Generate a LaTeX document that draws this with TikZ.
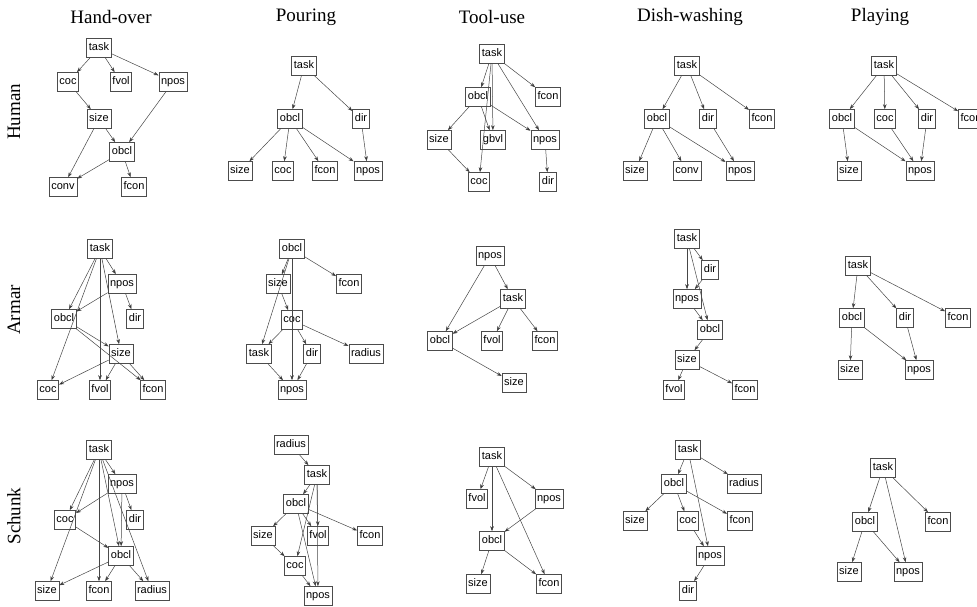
\documentclass[tikz,border=0pt]{standalone}
\usepackage{fontspec}
\setmainfont{Liberation Serif}
\setsansfont{Liberation Sans}
\usetikzlibrary{arrows.meta}

\tikzset{
  box/.style={draw=gray!60!black, line width=0.6pt, inner sep=2.2pt,
    minimum height=19pt, text height=8pt, text depth=2.4pt,
    font=\sffamily\fontsize{11}{11}\selectfont},
  link/.style={draw=gray!55!black, line width=0.5pt, ->},
  coltitle/.style={font=\fontsize{19}{19}\selectfont},
  rowtitle/.style={font=\fontsize{19}{19}\selectfont, rotate=90}
}

\begin{document}
\begin{tikzpicture}[x=1pt, y=-1pt, >={Stealth[length=5pt,width=3.6pt]}]
  \useasboundingbox (0,0) rectangle (977,607);

  % column and row titles
  \node[coltitle] (t-ho) at (111,17) {Hand-over};
  \node[coltitle] (t-po) at (306,17) {Pouring};
  \node[coltitle] (t-tu) at (492,17) {Tool-use};
  \node[coltitle] (t-dw) at (690,17) {Dish-washing};
  \node[coltitle] (t-pl) at (880,17) {Playing};
  \node[rowtitle] (r-H) at (14,112) {Human};
  \node[rowtitle] (r-A) at (14,310) {Armar};
  \node[rowtitle] (r-S) at (14,516) {Schunk};

  % Human, hand-over
  \node[box] (hoH-task) at (99,48) {task};
  \node[box] (hoH-coc)  at (68,82) {coc};
  \node[box] (hoH-fvol) at (121,82) {fvol};
  \node[box] (hoH-npos) at (173,82) {npos};
  \node[box] (hoH-size) at (99,119) {size};
  \node[box] (hoH-obcl) at (122,152) {obcl};
  \node[box] (hoH-conv) at (63,187) {conv};
  \node[box] (hoH-fcon) at (134,187) {fcon};
  \draw[link] (hoH-task) edge (hoH-coc) edge (hoH-fvol) edge (hoH-npos);
  \draw[link] (hoH-coc) edge (hoH-size);
  \draw[link] (hoH-size) edge (hoH-obcl) edge (hoH-conv);
  \draw[link] (hoH-npos) edge (hoH-obcl);
  \draw[link] (hoH-obcl) edge (hoH-conv) edge (hoH-fcon);

  % Human, pouring
  \node[box] (poH-task) at (304,66) {task};
  \node[box] (poH-obcl) at (290,119) {obcl};
  \node[box] (poH-dir)  at (361,119) {dir};
  \node[box] (poH-size) at (240,171) {size};
  \node[box] (poH-coc)  at (283,171) {coc};
  \node[box] (poH-fcon) at (325,171) {fcon};
  \node[box] (poH-npos) at (368,171) {npos};
  \draw[link] (poH-task) edge (poH-obcl) edge (poH-dir);
  \draw[link] (poH-obcl) edge (poH-size) edge (poH-coc) edge (poH-fcon) edge (poH-npos);
  \draw[link] (poH-dir) edge (poH-npos);

  % Human, tool-use
  \node[box] (tuH-task) at (492,54) {task};
  \node[box] (tuH-obcl) at (478,97) {obcl};
  \node[box] (tuH-fcon) at (548,97) {fcon};
  \node[box] (tuH-size) at (439,140) {size};
  \node[box] (tuH-gbvl) at (493,140) {gbvl};
  \node[box] (tuH-npos) at (545,140) {npos};
  \node[box] (tuH-coc)  at (479,182) {coc};
  \node[box] (tuH-dir)  at (548,182) {dir};
  \draw[link] (tuH-task) edge (tuH-obcl) edge (tuH-coc) edge (tuH-gbvl) edge (tuH-fcon) edge (tuH-npos);
  \draw[link] (tuH-obcl) edge (tuH-size) edge (tuH-gbvl) edge (tuH-npos);
  \draw[link] (tuH-size) edge (tuH-coc);
  \draw[link] (tuH-npos) edge (tuH-dir);

  % Human, dish-washing
  \node[box] (dwH-task) at (687,66) {task};
  \node[box] (dwH-obcl) at (657,119) {obcl};
  \node[box] (dwH-dir)  at (708,119) {dir};
  \node[box] (dwH-fcon) at (762,119) {fcon};
  \node[box] (dwH-size) at (635,171) {size};
  \node[box] (dwH-conv) at (687,171) {conv};
  \node[box] (dwH-npos) at (740,171) {npos};
  \draw[link] (dwH-task) edge (dwH-obcl) edge (dwH-dir) edge (dwH-fcon);
  \draw[link] (dwH-obcl) edge (dwH-size) edge (dwH-conv) edge (dwH-npos);
  \draw[link] (dwH-dir) edge (dwH-npos);

  % Human, playing (fcon runs over the right edge)
  \node[box] (plH-task) at (884,66) {task};
  \node[box] (plH-obcl) at (842,119) {obcl};
  \node[box] (plH-coc)  at (885,119) {coc};
  \node[box] (plH-dir)  at (927,119) {dir};
  \node[box] (plH-fcon) at (971,119) {fcon};
  \node[box] (plH-size) at (849,171) {size};
  \node[box] (plH-npos) at (920,171) {npos};
  \draw[link] (plH-task) edge (plH-obcl) edge (plH-coc) edge (plH-dir) edge (plH-fcon);
  \draw[link] (plH-obcl) edge (plH-size) edge (plH-npos);
  \draw[link] (plH-coc) edge (plH-npos);
  \draw[link] (plH-dir) edge (plH-npos);

  % Armar, hand-over
  \node[box] (hoA-task) at (100,249) {task};
  \node[box] (hoA-npos) at (122,284) {npos};
  \node[box] (hoA-obcl) at (64,319) {obcl};
  \node[box] (hoA-dir)  at (135,319) {dir};
  \node[box] (hoA-size) at (121,354) {size};
  \node[box] (hoA-coc)  at (48,390) {coc};
  \node[box] (hoA-fvol) at (100,390) {fvol};
  \node[box] (hoA-fcon) at (153,390) {fcon};
  \draw[link] (hoA-task) edge (hoA-npos) edge (hoA-obcl) edge (hoA-coc) edge (hoA-fvol) edge (hoA-size);
  \draw[link] (hoA-npos) edge (hoA-obcl) edge (hoA-dir);
  \draw[link] (hoA-obcl) edge (hoA-size) edge (hoA-fcon);
  \draw[link] (hoA-size) edge (hoA-coc) edge (hoA-fvol) edge (hoA-fcon);

  % Armar, pouring
  \node[box] (poA-obcl)   at (292,249) {obcl};
  \node[box] (poA-size)   at (278,284) {size};
  \node[box] (poA-fcon)   at (349,284) {fcon};
  \node[box] (poA-coc)    at (292,320) {coc};
  \node[box] (poA-task)   at (259,354) {task};
  \node[box] (poA-dir)    at (312,354) {dir};
  \node[box] (poA-radius) at (366,354) {radius};
  \node[box] (poA-npos)   at (292,390) {npos};
  \draw[link] (poA-obcl) edge (poA-size) edge (poA-fcon) edge (poA-task) edge (poA-npos);
  \draw[link] (poA-size) edge (poA-coc);
  \draw[link] (poA-coc) edge (poA-task) edge (poA-dir) edge (poA-radius);
  \draw[link] (poA-task) edge (poA-npos);
  \draw[link] (poA-dir) edge (poA-npos);

  % Armar, tool-use
  \node[box] (tuA-npos) at (490,256) {npos};
  \node[box] (tuA-task) at (513,299) {task};
  \node[box] (tuA-obcl) at (440,341) {obcl};
  \node[box] (tuA-fvol) at (492,341) {fvol};
  \node[box] (tuA-fcon) at (545,341) {fcon};
  \node[box] (tuA-size) at (514,383) {size};
  \draw[link] (tuA-npos) edge (tuA-task) edge (tuA-obcl);
  \draw[link] (tuA-task) edge (tuA-obcl) edge (tuA-fvol) edge (tuA-fcon);
  \draw[link] (tuA-obcl) edge (tuA-size);

  % Armar, dish-washing
  \node[box] (dwA-task) at (687,239) {task};
  \node[box] (dwA-dir)  at (710,270) {dir};
  \node[box] (dwA-npos) at (687,299) {npos};
  \node[box] (dwA-obcl) at (710,330) {obcl};
  \node[box] (dwA-size) at (687,360) {size};
  \node[box] (dwA-fvol) at (674,390) {fvol};
  \node[box] (dwA-fcon) at (745,390) {fcon};
  \draw[link] (dwA-task) edge (dwA-dir) edge (dwA-npos) edge (dwA-obcl);
  \draw[link] (dwA-dir) edge (dwA-npos);
  \draw[link] (dwA-npos) edge (dwA-obcl);
  \draw[link] (dwA-obcl) edge (dwA-size);
  \draw[link] (dwA-size) edge (dwA-fvol) edge (dwA-fcon);

  % Armar, playing
  \node[box] (plA-task) at (858,266) {task};
  \node[box] (plA-obcl) at (852,318) {obcl};
  \node[box] (plA-dir)  at (905,318) {dir};
  \node[box] (plA-fcon) at (958,318) {fcon};
  \node[box] (plA-size) at (850,370) {size};
  \node[box] (plA-npos) at (919,370) {npos};
  \draw[link] (plA-task) edge (plA-obcl) edge (plA-dir) edge (plA-fcon);
  \draw[link] (plA-obcl) edge (plA-size) edge (plA-npos);
  \draw[link] (plA-dir) edge (plA-npos);

  % Schunk, hand-over
  \node[box] (hoS-task)   at (99,450) {task};
  \node[box] (hoS-npos)   at (122,484) {npos};
  \node[box] (hoS-coc)    at (65,520) {coc};
  \node[box] (hoS-dir)    at (135,520) {dir};
  \node[box] (hoS-obcl)   at (121,556) {obcl};
  \node[box] (hoS-size)   at (47,591) {size};
  \node[box] (hoS-fcon)   at (99,591) {fcon};
  \node[box] (hoS-radius) at (152,591) {radius};
  \draw[link] (hoS-task) edge (hoS-npos) edge (hoS-coc) edge (hoS-size) edge (hoS-fcon) edge (hoS-obcl) edge (hoS-radius);
  \draw[link] (hoS-npos) edge (hoS-coc) edge (hoS-dir) edge (hoS-obcl);
  \draw[link] (hoS-coc) edge (hoS-obcl);
  \draw[link] (hoS-obcl) edge (hoS-size) edge (hoS-fcon) edge (hoS-radius);

  % Schunk, pouring
  \node[box] (poS-radius) at (291,445) {radius};
  \node[box] (poS-task)   at (317,475) {task};
  \node[box] (poS-obcl)   at (296,504) {obcl};
  \node[box] (poS-size)   at (263,536) {size};
  \node[box] (poS-fvol)   at (318,536) {fvol};
  \node[box] (poS-fcon)   at (370,536) {fcon};
  \node[box] (poS-coc)    at (295,566) {coc};
  \node[box] (poS-npos)   at (318,596) {npos};
  \draw[link] (poS-radius) edge (poS-task);
  \draw[link] (poS-task) edge (poS-obcl) edge (poS-coc) edge (poS-fvol) edge (poS-npos);
  \draw[link] (poS-obcl) edge (poS-size) edge (poS-fvol) edge (poS-fcon) edge (poS-npos);
  \draw[link] (poS-size) edge (poS-coc);
  \draw[link] (poS-coc) edge (poS-npos);

  % Schunk, tool-use
  \node[box] (tuS-task) at (492,457) {task};
  \node[box] (tuS-fvol) at (477,499) {fvol};
  \node[box] (tuS-npos) at (549,499) {npos};
  \node[box] (tuS-obcl) at (492,541) {obcl};
  \node[box] (tuS-size) at (478,584) {size};
  \node[box] (tuS-fcon) at (549,584) {fcon};
  \draw[link] (tuS-task) edge (tuS-fvol) edge (tuS-obcl) edge (tuS-npos) edge (tuS-fcon);
  \draw[link] (tuS-npos) edge (tuS-obcl);
  \draw[link] (tuS-obcl) edge (tuS-size) edge (tuS-fcon);

  % Schunk, dish-washing
  \node[box] (dwS-task)   at (688,450) {task};
  \node[box] (dwS-obcl)   at (674,484) {obcl};
  \node[box] (dwS-radius) at (744,484) {radius};
  \node[box] (dwS-size)   at (635,521) {size};
  \node[box] (dwS-coc)    at (688,521) {coc};
  \node[box] (dwS-fcon)   at (740,521) {fcon};
  \node[box] (dwS-npos)   at (710,556) {npos};
  \node[box] (dwS-dir)    at (688,591) {dir};
  \draw[link] (dwS-task) edge (dwS-obcl) edge (dwS-radius) edge (dwS-npos);
  \draw[link] (dwS-obcl) edge (dwS-size) edge (dwS-coc) edge (dwS-fcon);
  \draw[link] (dwS-coc) edge (dwS-npos);
  \draw[link] (dwS-npos) edge (dwS-dir);

  % Schunk, playing
  \node[box] (plS-task) at (883,468) {task};
  \node[box] (plS-obcl) at (865,522) {obcl};
  \node[box] (plS-fcon) at (938,522) {fcon};
  \node[box] (plS-size) at (849,572) {size};
  \node[box] (plS-npos) at (908,572) {npos};
  \draw[link] (plS-task) edge (plS-obcl) edge (plS-fcon) edge (plS-npos);
  \draw[link] (plS-obcl) edge (plS-size) edge (plS-npos);
\end{tikzpicture}
\end{document}
